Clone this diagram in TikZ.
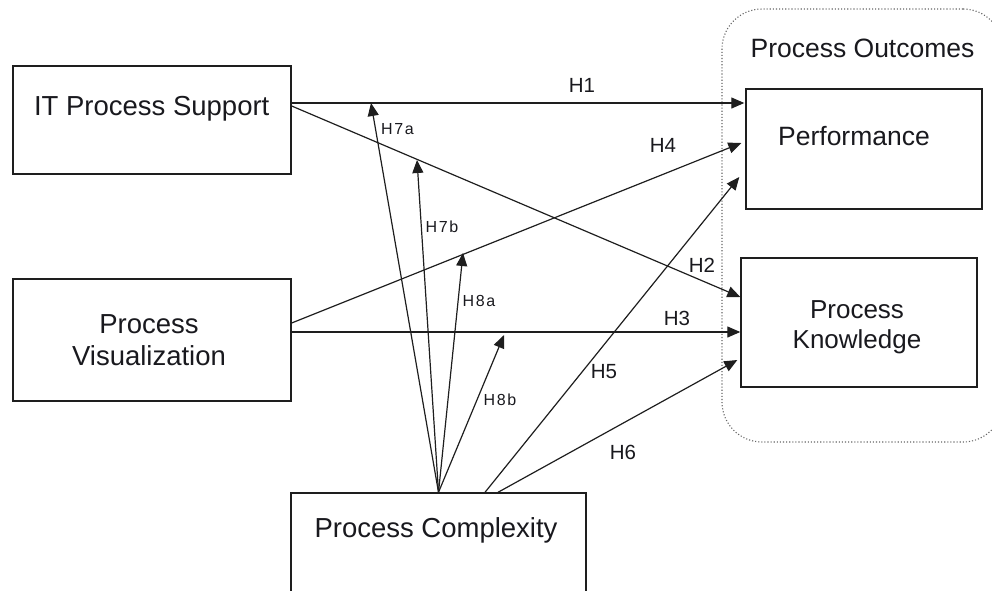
\documentclass[tikz,border=0pt]{standalone}
\usepackage{fontspec}
\setmainfont{Liberation Sans}
\newfontfamily\spacedf[LetterSpace=10]{Liberation Sans}
\usetikzlibrary{arrows.meta}
\definecolor{txt}{RGB}{25,25,30}
\definecolor{edge}{RGB}{30,30,30}
\tikzset{
  boxnode/.style={draw=edge, line width=1.4pt, inner sep=0pt, fill=none},
  lbl/.style={anchor=base, inner sep=0pt, text=txt, align=center},
  biglbl/.style={lbl, font=\fontsize{27.5}{32}\selectfont},
  hlbl/.style={lbl, font=\fontsize{20.5}{24}\selectfont},
  mlbl/.style={lbl, font=\spacedf\fontsize{16}{19}\selectfont},
  conn/.style={draw=edge, line width=1.2pt, -{Triangle[length=13pt,width=11pt]}},
  outline/.style={draw=black!60, dotted, line width=1.1pt, rounded corners=40pt}
}
\begin{document}
\begin{tikzpicture}[x=1pt,y=-1pt]
\useasboundingbox (0,0) rectangle (992,590);
% group outline
\node[outline, minimum width=281pt, minimum height=433pt, inner sep=0pt] (outc) at (862.5,225.5) {};
\node[lbl, font=\fontsize{26.5}{30}\selectfont] (outct) at (862.5,57) {Process Outcomes};
% boxes
\node[boxnode, minimum width=278pt, minimum height=108pt] (its) at (152,120) {};
\node[boxnode, minimum width=278pt, minimum height=122pt] (pv) at (152,340) {};
\node[boxnode, minimum width=295pt, minimum height=112pt] (pc) at (438.5,549) {};
\node[boxnode, minimum width=236pt, minimum height=120pt] (perf) at (864,149) {};
\node[boxnode, minimum width=236pt, minimum height=129pt] (pk) at (859,322.5) {};
% box texts
\node[biglbl] (itst) at (151.7,115) {IT Process Support};
\node[biglbl] (pvt1) at (149,333) {Process};
\node[biglbl] (pvt2) at (149,365) {Visualization};
\node[biglbl] (pct) at (436,537) {Process Complexity};
\node[lbl, font=\fontsize{26.5}{30}\selectfont] (perft) at (854,145) {Performance};
\node[lbl, font=\fontsize{26}{30}\selectfont] (pkt1) at (857,318) {Process};
\node[lbl, font=\fontsize{26}{30}\selectfont] (pkt2) at (857,348) {Knowledge};
% moderator endpoints
\coordinate (h7aend) at (371,103);
\coordinate (h7bend) at (417,160);
\coordinate (h8aend) at (463,253);
\coordinate (h8bend) at (504,335);
% main connectors
\draw[conn] ([yshift=17pt]its.east) -- ([xshift=-1pt,yshift=46pt]perf.west);
\draw[conn] ([yshift=14pt]its.east) -- ([yshift=25.5pt]pk.west);
\draw[conn] ([yshift=17pt]pv.east) -- ([xshift=-4pt,yshift=6pt]perf.west);
\draw[conn] ([yshift=8pt]pv.east) -- ([yshift=-9.5pt]pk.west);
\draw[conn] ([xshift=46.5pt]pc.north) -- ([xshift=-6pt,yshift=-28pt]perf.west);
\draw[conn] ([xshift=59.5pt]pc.north) -- ([xshift=-3pt,yshift=-37.5pt]pk.west);
% moderating connectors
\draw[conn] (pc.north) -- (h7aend);
\draw[conn] (pc.north) -- (h7bend);
\draw[conn] (pc.north) -- (h8aend);
\draw[conn] (pc.north) -- (h8bend);
% labels
\node[hlbl] (lh1) at (582,92) {H1};
\node[hlbl] (lh4) at (663,152) {H4};
\node[hlbl] (lh2) at (702,272) {H2};
\node[hlbl] (lh3) at (677,325) {H3};
\node[hlbl] (lh5) at (604,378) {H5};
\node[hlbl] (lh6) at (623,459) {H6};
\node[mlbl] (lh7a) at (397.5,134) {H7a};
\node[mlbl] (lh7b) at (442,232) {H7b};
\node[mlbl] (lh8a) at (479,306) {H8a};
\node[mlbl] (lh8b) at (500,405) {H8b};
\end{tikzpicture}
\end{document}
